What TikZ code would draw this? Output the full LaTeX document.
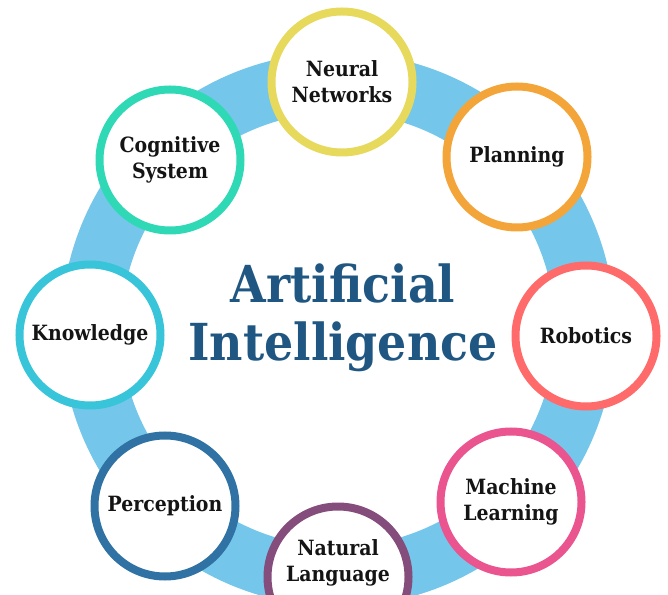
\documentclass[tikz,border=0pt]{standalone}
\usepackage{fontspec}
\setmainfont{DejaVu Serif Condensed}
\usetikzlibrary{positioning}
\definecolor{cring}{HTML}{74C7EA}
\definecolor{ctitle}{HTML}{1F5782}
\definecolor{cyellow}{HTML}{E6D95C}
\definecolor{corange}{HTML}{F4A53A}
\definecolor{cred}{HTML}{FF6B6B}
\definecolor{cpink}{HTML}{EA5590}
\definecolor{cpurple}{HTML}{844D7C}
\definecolor{cblue}{HTML}{2F72A3}
\definecolor{ccyan}{HTML}{38C5DA}
\definecolor{cgreen}{HTML}{2FD9B5}
\tikzset{
  every picture/.style={font=\bfseries},
  topic/.style={circle, draw=#1, fill=white, line width=8pt, minimum size=141pt, inner sep=0pt, align=center, font=\bfseries\fontsize{21}{26}\selectfont, text=black!92},
  topic/.default=cblue,
  ring/.style={draw=cring, line width=60pt},
  title/.style={font=\bfseries\fontsize{51}{58}\selectfont, text=ctitle, align=center},
}

\begin{document}
\begin{tikzpicture}[x=1pt, y=1pt]
  \useasboundingbox (0,0) rectangle (668,594);
  \clip (0,0) rectangle (668,594);
  \coordinate (hub) at (338,264.5);
  \draw[ring] (hub) circle [radius=247pt];
  \node[title] (ai) at (343,276) {Artificial\\Intelligence};
  \foreach \n/\x/\y/\c/\t in {neural/342/512/cyellow/{Neural\\Networks},
      planning/517/437/corange/Planning, robotics/586/258/cred/Robotics,
      learning/511/92/cpink/{Machine\\Learning},
      perception/165/88/cblue/Perception, knowledge/90/259/ccyan/Knowledge,
      cognitive/170/434/cgreen/{Cognitive\\System}} {
    \node[topic=\c] (\n) at (\x,\y) {\t};
  }
  % text sits high, bottom of the circle is cut off
  \node[topic=cpurple, text depth=32pt] (language) at (338,17) {Natural\\Language};
\end{tikzpicture}
\end{document}
